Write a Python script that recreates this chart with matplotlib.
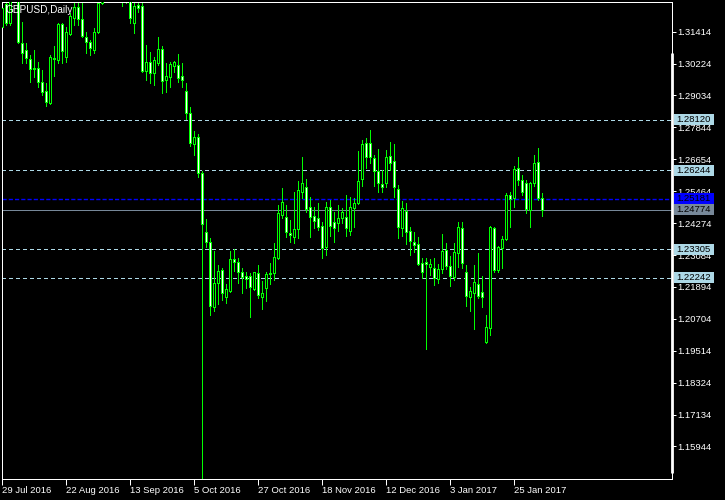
# GBPUSD, Daily - свечной график в стиле MetaTrader
import matplotlib.pyplot as plt
from matplotlib.patches import Rectangle
from matplotlib.transforms import blended_transform_factory

# Данные (бары с 29 Jul 2016 по 3 Feb 2017)
opens = [
    1.3160, 1.3245, 1.3175, 1.3289, 1.3300, 1.3098, 1.3073, 1.3038, 1.3005, 1.3005,
    1.2955, 1.2921, 1.2874, 1.3042, 1.3036, 1.3170, 1.3048, 1.3133, 1.3191, 1.3235,
    1.3188, 1.3120, 1.3102, 1.3073, 1.3141, 1.3250, 1.3290, 1.3330, 1.3300, 1.3320,
    1.3270, 1.3260, 1.3290, 1.3173, 1.3241, 1.3237, 1.2996, 1.3030, 1.2988, 1.3026,
    1.3076, 1.2961, 1.2974, 1.3015, 1.3017, 1.2976, 1.2921, 1.2837, 1.2721, 1.2748,
    1.2613, 1.2393, 1.2358, 1.2116, 1.2203, 1.2253, 1.2153, 1.2175, 1.2292, 1.2283,
    1.2246, 1.2231, 1.2231, 1.2181, 1.2240, 1.2153, 1.2184, 1.2236, 1.2240, 1.2298,
    1.2458, 1.2451, 1.2389, 1.2377, 1.2404, 1.2542, 1.2561, 1.2486, 1.2454, 1.2445,
    1.2417, 1.2339, 1.2486, 1.2433, 1.2427, 1.2445, 1.2451, 1.2399, 1.2485, 1.2501,
    1.2591, 1.2727, 1.2727, 1.2669, 1.2623, 1.2572, 1.2576, 1.2678, 1.2659, 1.2554,
    1.2410, 1.2474, 1.2398, 1.2358, 1.2350, 1.2278, 1.2281, 1.2265, 1.2259, 1.2218,
    1.2255, 1.2327, 1.2267, 1.2228, 1.2315, 1.2408, 1.2246, 1.2153, 1.2168, 1.2199,
    1.2169, 1.1985, 1.2037, 1.2408, 1.2253, 1.2336, 1.2368, 1.2532, 1.2520, 1.2632,
    1.2589, 1.2576, 1.2476, 1.2576, 1.2654, 1.2520,
]
highs = [
    1.3241, 1.3250, 1.3300, 1.3330, 1.3315, 1.3179, 1.3098, 1.3054, 1.3073, 1.3030,
    1.2999, 1.2949, 1.3054, 1.3088, 1.3175, 1.3175, 1.3160, 1.3212, 1.3250, 1.3250,
    1.3250, 1.3140, 1.3110, 1.3154, 1.3262, 1.3300, 1.3345, 1.3445, 1.3370, 1.3340,
    1.3310, 1.3310, 1.3300, 1.3247, 1.3248, 1.3248, 1.3092, 1.3067, 1.3048, 1.3120,
    1.3088, 1.3024, 1.3030, 1.3032, 1.3058, 1.3024, 1.2949, 1.2862, 1.2771, 1.2760,
    1.2622, 1.2443, 1.2371, 1.2323, 1.2271, 1.2260, 1.2199, 1.2323, 1.2330, 1.2296,
    1.2259, 1.2246, 1.2240, 1.2246, 1.2271, 1.2211, 1.2246, 1.2277, 1.2352, 1.2495,
    1.2557, 1.2495, 1.2439, 1.2545, 1.2584, 1.2673, 1.2592, 1.2526, 1.2489, 1.2504,
    1.2433, 1.2507, 1.2514, 1.2470, 1.2495, 1.2483, 1.2532, 1.2524, 1.2522, 1.2696,
    1.2738, 1.2746, 1.2775, 1.2681, 1.2703, 1.2626, 1.2700, 1.2731, 1.2722, 1.2570,
    1.2510, 1.2504, 1.2414, 1.2395, 1.2377, 1.2296, 1.2296, 1.2292, 1.2296, 1.2275,
    1.2387, 1.2354, 1.2305, 1.2352, 1.2433, 1.2433, 1.2271, 1.2190, 1.2271, 1.2317,
    1.2230, 1.2085, 1.2417, 1.2414, 1.2342, 1.2379, 1.2539, 1.2545, 1.2640, 1.2673,
    1.2607, 1.2589, 1.2580, 1.2681, 1.2706, 1.2539,
]
lows = [
    1.3148, 1.3166, 1.3168, 1.3262, 1.3100, 1.3024, 1.3024, 1.2955, 1.2974, 1.2936,
    1.2905, 1.2864, 1.2870, 1.2976, 1.3024, 1.3024, 1.3030, 1.3129, 1.3166, 1.3166,
    1.3123, 1.3061, 1.3054, 1.3063, 1.3135, 1.3245, 1.3280, 1.3270, 1.3270, 1.3265,
    1.3237, 1.3247, 1.3175, 1.3138, 1.3215, 1.2992, 1.2961, 1.2949, 1.2943, 1.3017,
    1.2914, 1.2918, 1.2936, 1.2992, 1.2955, 1.2936, 1.2816, 1.2715, 1.2681, 1.2601,
    1.1440, 1.2339, 1.2085, 1.2101, 1.2126, 1.2141, 1.2131, 1.2172, 1.2250, 1.2205,
    1.2168, 1.2184, 1.2078, 1.2178, 1.2147, 1.2107, 1.2138, 1.2200, 1.2215, 1.2294,
    1.2445, 1.2377, 1.2358, 1.2352, 1.2373, 1.2520, 1.2470, 1.2377, 1.2408, 1.2402,
    1.2298, 1.2308, 1.2379, 1.2358, 1.2399, 1.2427, 1.2379, 1.2383, 1.2414, 1.2499,
    1.2566, 1.2632, 1.2653, 1.2566, 1.2545, 1.2545, 1.2563, 1.2626, 1.2526, 1.2373,
    1.2379, 1.2350, 1.2308, 1.2321, 1.2271, 1.2222, 1.1957, 1.2234, 1.2197, 1.2205,
    1.2242, 1.2256, 1.2194, 1.2215, 1.2265, 1.2259, 1.2118, 1.2101, 1.2032, 1.2149,
    1.2116, 1.1979, 1.2010, 1.2246, 1.2245, 1.2259, 1.2366, 1.2414, 1.2489, 1.2570,
    1.2532, 1.2464, 1.2412, 1.2567, 1.2514, 1.2454,
]
closes = [
    1.3229, 1.3175, 1.3289, 1.3300, 1.3104, 1.3063, 1.3042, 1.3001, 1.3001, 1.2955,
    1.2918, 1.2880, 1.3046, 1.3040, 1.3170, 1.3071, 1.3139, 1.3200, 1.3235, 1.3188,
    1.3126, 1.3104, 1.3079, 1.3139, 1.3250, 1.3290, 1.3330, 1.3300, 1.3320, 1.3270,
    1.3260, 1.3290, 1.3191, 1.3237, 1.3229, 1.2996, 1.3030, 1.2986, 1.3036, 1.3076,
    1.2959, 1.2976, 1.3021, 1.3027, 1.2968, 1.2961, 1.2837, 1.2727, 1.2748, 1.2613,
    1.2423, 1.2358, 1.2119, 1.2203, 1.2249, 1.2166, 1.2181, 1.2292, 1.2283, 1.2246,
    1.2225, 1.2219, 1.2188, 1.2244, 1.2159, 1.2166, 1.2236, 1.2242, 1.2300, 1.2464,
    1.2507, 1.2393, 1.2382, 1.2404, 1.2551, 1.2576, 1.2480, 1.2451, 1.2436, 1.2414,
    1.2333, 1.2486, 1.2418, 1.2410, 1.2445, 1.2468, 1.2410, 1.2486, 1.2501, 1.2586,
    1.2721, 1.2675, 1.2675, 1.2623, 1.2578, 1.2563, 1.2673, 1.2653, 1.2563, 1.2414,
    1.2483, 1.2393, 1.2362, 1.2346, 1.2275, 1.2246, 1.2275, 1.2275, 1.2222, 1.2255,
    1.2323, 1.2268, 1.2231, 1.2318, 1.2412, 1.2277, 1.2156, 1.2174, 1.2209, 1.2157,
    1.2151, 1.2039, 1.2412, 1.2253, 1.2337, 1.2367, 1.2532, 1.2516, 1.2628, 1.2589,
    1.2542, 1.2480, 1.2576, 1.2653, 1.2520, 1.2477,
]

date_ticks = [0, 16, 32, 48, 64, 80, 96, 112, 128]
date_labels = ['29 Jul 2016', '22 Aug 2016', '13 Sep 2016', '5 Oct 2016', '27 Oct 2016',
               '18 Nov 2016', '12 Dec 2016', '3 Jan 2017', '25 Jan 2017']
price_ticks = [1.31414, 1.30224, 1.29034, 1.27844, 1.26654, 1.25464, 1.24274,
               1.23084, 1.21894, 1.20704, 1.19514, 1.18324, 1.17134, 1.15944]

levels = [1.28120, 1.26244, 1.23305, 1.22242]
ask_price = 1.25181
bid_price = 1.24774

GREEN = '#00ff00'
W, H = 725, 500
plt.rcParams['font.family'] = ['Liberation Sans', 'DejaVu Sans']
FS = 6.8

fig = plt.figure(figsize=(W / 100, H / 100), dpi=100, facecolor='black')
ax = fig.add_axes([2 / W, 21 / H, 670 / W, 477 / H], facecolor='black')
ax.set_xlim(0, 167.5)
ax.set_ylim(1.14729, 1.32521)

# уровни
for lv in levels:
    ax.axhline(lv, color='#add8e6', lw=0.72, linestyle=(0, (3, 3)), antialiased=False, zorder=1)
ax.axhline(ask_price, color='#0000ff', lw=1.0, linestyle=(0, (3, 1.5)), zorder=1)
ax.axhline(bid_price, color='#778899', lw=0.72, antialiased=False, zorder=1)

# свечи
for i in range(len(opens)):
    o, h, l, c = opens[i], highs[i], lows[i], closes[i]
    ax.vlines(i, l, h, color=GREEN, lw=0.72, antialiased=False, zorder=2)
    fc = 'white' if c < o else 'black'
    bottom = min(o, c)
    height = max(abs(c - o), 0.00005)
    ax.add_patch(Rectangle((i - 0.25, bottom), 0.5, height, facecolor=fc,
                           edgecolor=GREEN, lw=0.72, antialiased=False, zorder=3))

# оси
for side in ['top', 'bottom', 'left', 'right']:
    ax.spines[side].set_color('white')
    ax.spines[side].set_linewidth(0.72)
ax.yaxis.tick_right()
ax.set_yticks(price_ticks)
ax.set_yticklabels([f'{p:.5f}' for p in price_ticks])
ax.set_xticks(date_ticks)
ax.set_xticklabels(date_labels)
for lab in ax.get_xticklabels():
    lab.set_horizontalalignment('left')
ax.tick_params(axis='y', colors='white', labelsize=FS, length=3, width=0.72, pad=1)
ax.tick_params(axis='x', colors='white', labelsize=FS, length=4, width=0.72, pad=1)

# толстая полоса справа
ax.plot([1, 1], [0.0126, 0.893], transform=ax.transAxes, color='white', lw=2,
        solid_capstyle='butt', clip_on=False, zorder=4)

# метки уровней на шкале цен
trans = blended_transform_factory(fig.transFigure, ax.transData)
boxes = [(lv, '#add8e6', 'black') for lv in levels]
boxes += [(ask_price, '#0000ff', 'black'), (bid_price, '#778899', 'black')]
half = 5.5 * 0.000373
for lv, bg, fg in boxes:
    ax.add_patch(Rectangle((674 / W, lv - half), 40 / W, 2 * half, transform=trans,
                           facecolor=bg, edgecolor='none', clip_on=False, zorder=5))
    ax.text(676 / W, lv, f'{lv:.5f}', transform=trans, color=fg, fontsize=FS,
            ha='left', va='center', clip_on=False, zorder=6)

fig.text(6 / W, 1 - 10 / H, 'GBPUSD,Daily', color='white', fontsize=FS + 0.4,
         ha='left', va='center', zorder=10)

fig.savefig('out.png', dpi=100, facecolor='black')
